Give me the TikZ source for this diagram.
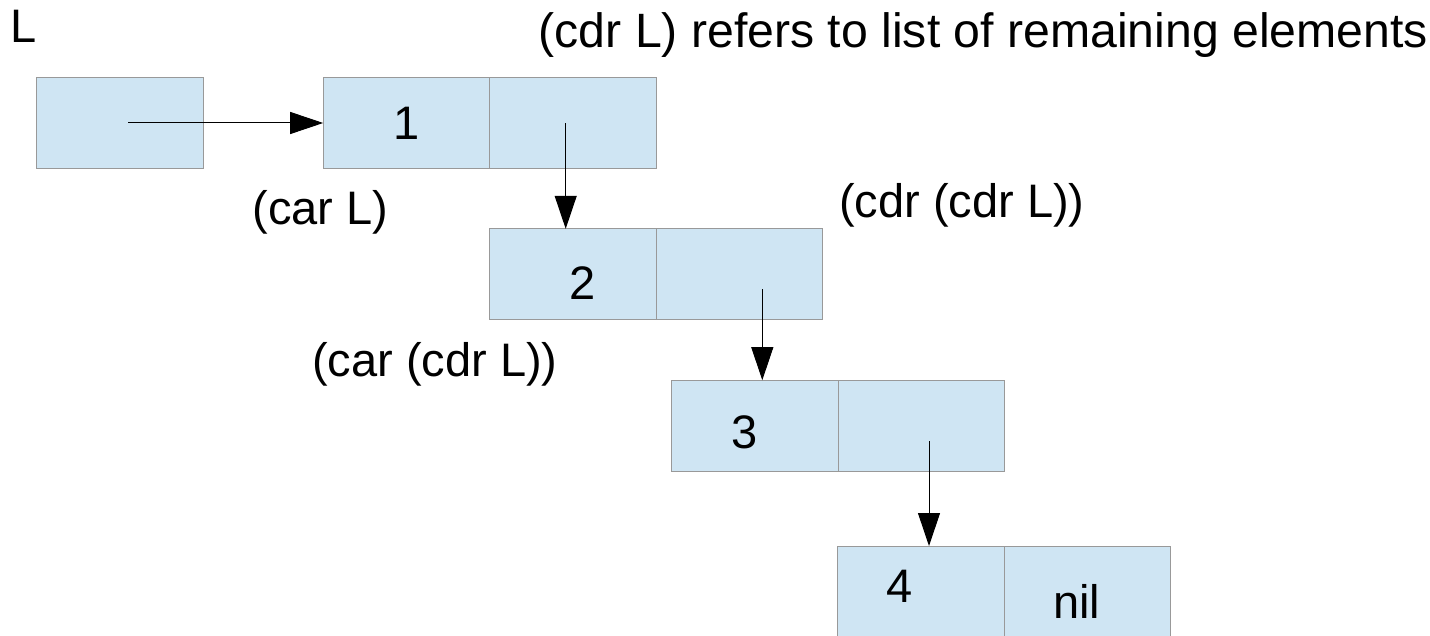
\documentclass[tikz,border=0pt]{standalone}
\usepackage{fontspec}
\setmainfont{Liberation Sans}
\usetikzlibrary{arrows.meta}
\definecolor{cellfill}{HTML}{CFE5F3}
\definecolor{cellline}{HTML}{999999}
\begin{document}
\begin{tikzpicture}[x=1pt,y=-1pt,
  cell/.style={draw=cellline,fill=cellfill,line width=1pt,minimum width=166.6pt,minimum height=91pt,inner sep=0pt,outer sep=0pt},
  lbl/.style={font=\fontsize{47}{56}\selectfont,inner sep=0pt,anchor=base west},
  toplbl/.style={font=\fontsize{48.2}{58}\selectfont,inner sep=0pt,anchor=base west},
  val/.style={font=\fontsize{47}{56}\selectfont,inner sep=0pt,anchor=base},
  ptr/.style={line width=1pt,-{Triangle[length=33pt,width=22pt]}}]
\useasboundingbox (0,0) rectangle (1430,636);
% cells
\node[cell] (lc) at (120,123) {};
\node[cell] (c1a) at (406.5,123) {};
\node[cell] (c1d) at (573,123) {};
\node[cell] (c2a) at (573,274.3) {};
\node[cell] (c2d) at (739.5,274.3) {};
\node[cell] (c3a) at (754.7,425.7) {};
\node[cell] (c3d) at (921.3,425.7) {};
\node[cell] (c4a) at (921,591.5) {};
\node[cell] (c4d) at (1087.6,591.5) {};
% values
\node[val] (v1) at (406.7,140) {1};
\node[val] (v2) at (582.3,300) {2};
\node[val] (v3) at (745,448) {3};
\node[val] (v4) at (900,602.7) {4};
\node[val] (vn) at (1076.7,618.3) {nil};
% labels
\node[lbl] (tL) at (10.5,42.7) {L};
\node[toplbl] (tcdr) at (538.5,48) {(cdr L) refers to list of remaining elements};
\node[lbl] (tcar) at (252.5,225) {(car L)};
\node[lbl] (tcdd) at (839,218) {(cdr (cdr L))};
\node[lbl] (tcad) at (312,376.7) {(car (cdr L))};
% pointers
\coordinate (p0) at (128,123);
\coordinate (p1) at (565.7,123.3);
\coordinate (p2) at (762.3,289.3);
\coordinate (p3) at (929,441);
\draw[ptr] (p0) -- (c1a.west);
\draw[ptr] (p1) -- (p1 |- c2a.north);
\draw[ptr] (p2) -- (p2 |- c3a.north);
\draw[ptr] (p3) -- (p3 |- c4a.north);
\end{tikzpicture}
\end{document}
